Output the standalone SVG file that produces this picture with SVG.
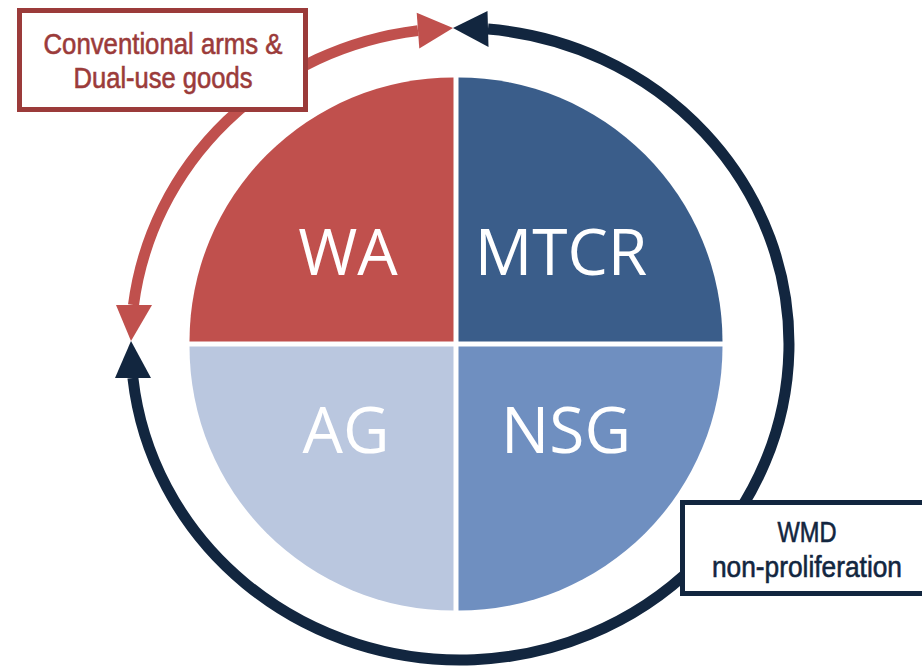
<svg xmlns="http://www.w3.org/2000/svg" width="922" height="667" viewBox="0 0 922 667">
<style>
.big{font-family:"Open Sans","Liberation Sans",sans-serif;font-size:64px;fill:#fff;text-anchor:middle}
.lbl{font-family:"Liberation Sans Narrow","Liberation Sans",sans-serif;font-size:29px;text-anchor:middle;stroke-width:0.6}
.red{fill:#9B3B3A;stroke:#9B3B3A}
.navy{fill:#12263F;stroke:#12263F}
</style>
<rect width="922" height="667" fill="#fff"/>
<g id="connectors">
<path d="M 133.5 305 A 329 316 0 0 1 418 30.6" fill="none" stroke="#C0504D" stroke-width="11"/>
<polygon points="453,28 419.3,48.5 416.7,12.7" fill="#C0504D"/>
<polygon points="131,341 116,305 152,305" fill="#C0504D"/>
<path d="M 488 29.1 A 329 316 0 1 1 132.9 378" fill="none" stroke="#12263F" stroke-width="11"/>
<polygon points="453,28 487.5,11 488.5,47" fill="#12263F"/>
<polygon points="131,341 115,378 151,378" fill="#12263F"/>
</g>
<g id="WA">
<path d="M 453.5 341.5 L 189.5 341.5 A 264 264 0 0 1 453.5 77.5 Z" fill="#C0504D"/>
<text class="big" x="348" y="275">WA</text>
</g>
<g id="MTCR">
<path d="M 458.5 341.5 L 458.5 77.5 A 264 264 0 0 1 722.5 341.5 Z" fill="#3A5D8A"/>
<text class="big" x="561" y="275">MTCR</text>
</g>
<g id="AG">
<path d="M 453.5 346.5 L 453.5 610.5 A 264 264 0 0 1 189.5 346.5 Z" fill="#BAC7DF"/>
<text class="big" x="346" y="453">AG</text>
</g>
<g id="NSG">
<path d="M 458.5 346.5 L 722.5 346.5 A 264 264 0 0 1 458.5 610.5 Z" fill="#6F8FC0"/>
<text class="big" x="566" y="453">NSG</text>
</g>
<g id="box-conventional">
<rect x="19.5" y="10.5" width="286" height="99" fill="#fff" stroke="#9B3B3A" stroke-width="5"/>
<text class="lbl red" x="163" y="54" textLength="239" lengthAdjust="spacingAndGlyphs">Conventional arms &amp;</text>
<text class="lbl red" x="163" y="88" textLength="179" lengthAdjust="spacingAndGlyphs">Dual-use goods</text>
</g>
<g id="box-wmd">
<rect x="682.5" y="502.5" width="262" height="91" fill="#fff" stroke="#12263F" stroke-width="5"/>
<text class="lbl navy" x="807" y="542" textLength="59" lengthAdjust="spacingAndGlyphs">WMD</text>
<text class="lbl navy" x="807" y="577" textLength="190" lengthAdjust="spacingAndGlyphs">non-proliferation</text>
</g>
</svg>
